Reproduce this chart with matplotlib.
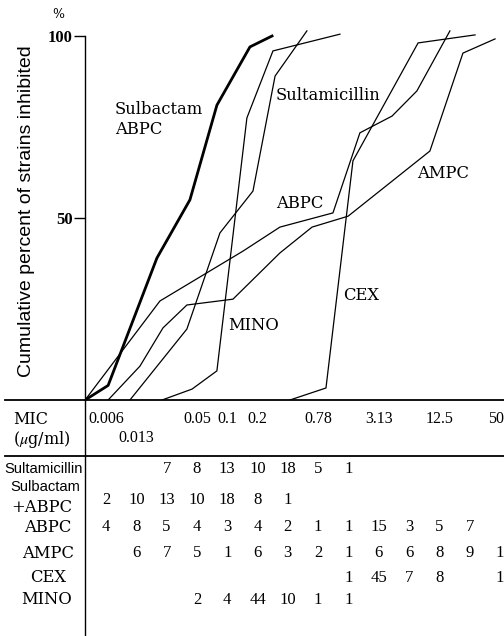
import matplotlib
matplotlib.use("Agg")
import matplotlib.pyplot as plt

# x of the curves is in dilution-column units: 0.006 = 1, 0.013 = 2, 0.025 = 3 ... 50 = 14
sulb_abpc_x = [0.31, 1.07, 2.68, 3.77, 4.66, 5.75, 6.48]
sulb_abpc_y = [0, 4, 39, 55, 81, 97, 100]
sultam_x = [1.79, 3.67, 4.76, 5.85, 6.58, 7.63]
sultam_y = [0, 19.5, 45.9, 57.4, 89.0, 101.4]
mino_x = [2.85, 3.84, 4.66, 5.65, 6.51, 8.72]
mino_y = [0, 3, 8, 77.5, 95.9, 100.5]
abpc_x = [0.31, 2.78, 5.52, 6.74, 8.49, 9.38, 10.44, 11.26, 12.35]
abpc_y = [0, 27.2, 40.9, 47.5, 51.4, 73.4, 78.0, 84.9, 101.4]
ampc_x = [1.07, 2.12, 2.88, 3.67, 5.19, 6.74, 7.80, 8.99, 11.69, 12.78, 13.84]
ampc_y = [0, 9.3, 19.8, 26.1, 27.7, 40.4, 47.5, 50.5, 68.4, 95.3, 99.2]
cex_x = [7.07, 8.26, 9.15, 11.30, 13.18]
cex_y = [0, 3.3, 65.7, 98.1, 100.3]

# MIC header of the table
mic_labels = ['0.006', '0.013', '0.05', '0.1', '0.2', '0.78', '3.13', '12.5', '50']
mic_cols = [1, 2, 4, 5, 6, 8, 10, 12, 14]
mic_line = [0, 1, 0, 0, 0, 0, 0, 0, 0]

# number of strains per MIC column (14 columns)
sultam_n = [None, None, 7, 8, 13, 10, 18, 5, 1, None, None, None, None, None]
sulb_n = [2, 10, 13, 10, 18, 8, 1, None, None, None, None, None, None, None]
abpc_n = [4, 8, 5, 4, 3, 4, 2, 1, 1, 15, 3, 5, 7, None]
ampc_n = [None, 6, 7, 5, 1, 6, 3, 2, 1, 6, 6, 8, 9, 1]
cex_n = [None, None, None, None, None, None, None, None, 1, 45, 7, 8, None, 1]
mino_n = [None, None, None, 2, 4, 44, 10, 1, 1, None, None, None, None, None]

plt.rcParams['mathtext.fontset'] = 'stix'

W, H = 504, 636
fig = plt.figure(figsize=(W/100, H/100), dpi=100)

def col(px):
    return 1 + (px - 106) / 30.3

y0, ppu = 400, 3.64   # pixel row of 0 %, pixels per percent
top = 20
ax = fig.add_axes([85/W, (H-y0)/H, (W-85)/W, (y0-top)/H])
ax.set_xlim(col(85), col(W))
ax.set_ylim(0, (y0-top)/ppu)

thin = dict(color='black', lw=0.9, solid_joinstyle='miter')
ax.plot(sulb_abpc_x, sulb_abpc_y, color='black', lw=2.0)
ax.plot(sultam_x, sultam_y, **thin)
ax.plot(mino_x, mino_y, **thin)
ax.plot(abpc_x, abpc_y, **thin)
ax.plot(ampc_x, ampc_y, **thin)
ax.plot(cex_x, cex_y, **thin)

lab = dict(family='DejaVu Serif', fontsize=11.8, va='center', ha='left')
def pct(py):
    return (y0 - py) / ppu
ax.text(col(115), pct(110), 'Sulbactam', **lab)
ax.text(col(115), pct(129), 'ABPC', **lab)
ax.text(col(276), pct(96), 'Sultamicillin', **lab)
ax.text(col(276), pct(203), 'ABPC', **lab)
ax.text(col(417), pct(173), 'AMPC', **lab)
ax.text(col(343), pct(296), 'CEX', **lab)
ax.text(col(228), pct(326), 'MINO', **lab)

for s in ['top', 'right', 'bottom']:
    ax.spines[s].set_visible(False)
ax.spines['left'].set_bounds(0, 100)
ax.spines['left'].set_linewidth(1.0)
ax.set_xticks([])
ax.set_yticks([50, 100])
ax.set_yticklabels(['50', '100'], family='Liberation Serif', fontsize=12, fontweight='bold')
ax.tick_params(axis='y', length=8, width=1.0, pad=1)
ax.text(-0.065, pct(15), '%', transform=ax.get_yaxis_transform(), ha='center', va='center',
        family='DejaVu Serif', fontsize=9)
fig.text(27/W, 1 - 211/H, 'Cumulative percent of strains inhibited', rotation=90,
         ha='center', va='center', family='Liberation Sans', fontsize=14)

# table below the plot, y in pixel rows
tab = fig.add_axes([0, 0, 1, (H-y0)/H])
tab.set_xlim(col(0), col(W))
tab.set_ylim(H, y0)
tab.axis('off')
tx = tab.get_yaxis_transform()
tab.plot([5/W, 1], [400, 400], transform=tx, color='black', lw=1.3, clip_on=False)
tab.plot([5/W, 1], [456, 456], transform=tx, color='black', lw=1.3, clip_on=False)
tab.plot([85/W, 85/W], [400, H], transform=tx, color='black', lw=1.0, clip_on=False)

tab.text(31/W, 419, 'MIC', transform=tx, ha='center', va='center', family='DejaVu Serif', fontsize=11.5)
tab.text(42/W, 439, r'($\mu$g/ml)', transform=tx, ha='center', va='center', family='DejaVu Serif', fontsize=11.5)
for lbl, c, ln in zip(mic_labels, mic_cols, mic_line):
    tab.text(min(c, col(W) - 0.25), 419 + 19*ln, lbl, ha='center', va='center',
             family='Liberation Serif', fontsize=11.5)

rows = [sultam_n, sulb_n, abpc_n, ampc_n, cex_n, mino_n]
row_y = [469, 500, 527, 553, 578, 600]
for counts, ry in zip(rows, row_y):
    for i, n in enumerate(counts):
        if n is not None:
            tab.text(i + 1, ry, str(n), ha='center', va='center', family='Liberation Serif', fontsize=12)

sans = dict(transform=tx, va='center', family='Liberation Sans', fontsize=10.6)
serif = dict(transform=tx, va='center', family='DejaVu Serif', fontsize=11.8)
tab.text(44/W, 469, 'Sultamicillin', ha='center', **sans)
tab.text(10/W, 487, 'Sulbactam', ha='left', **sans)
tab.text(11/W, 507, '+ABPC', ha='left', **serif)
tab.text(48/W, 527, 'ABPC', ha='center', **serif)
tab.text(48/W, 553, 'AMPC', ha='center', **serif)
tab.text(48/W, 578, 'CEX', ha='center', **serif)
tab.text(47/W, 600, 'MINO', ha='center', **serif)

fig.savefig('out.png', dpi=100)
